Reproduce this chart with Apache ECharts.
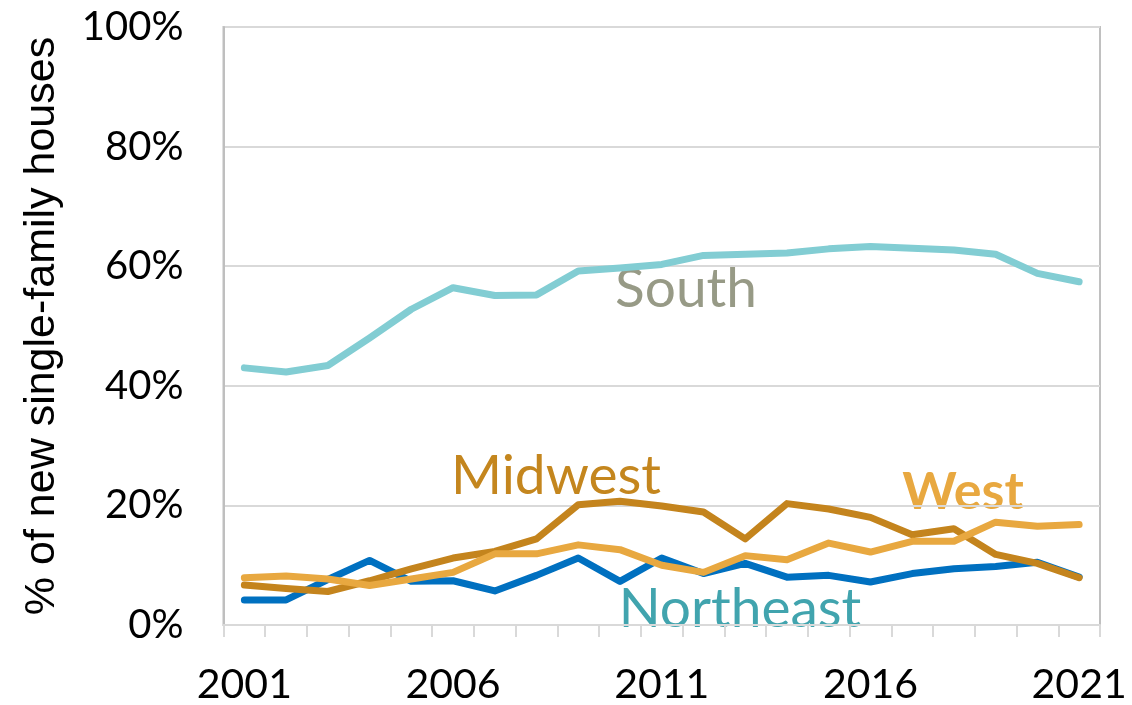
<!DOCTYPE html>
<html>
<head>
<meta charset="utf-8">
<script src="https://cdn.jsdelivr.net/npm/echarts@6/dist/echarts.min.js"></script>
<style>
html,body{margin:0;padding:0;background:#fff;}
#chart{width:1132px;height:705px;}
</style>
</head>
<body>
<div id="chart"></div>
<script>
var years = ['2001','2002','2003','2004','2005','2006','2007','2008','2009','2010','2011','2012','2013','2014','2015','2016','2017','2018','2019','2020','2021'];
var south     = [43.0,42.3,43.4,48.0,52.8,56.4,55.1,55.2,59.2,59.7,60.3,61.8,62.0,62.2,62.9,63.3,63.0,62.7,62.0,58.8,57.4];
var northeast = [4.2,4.2,7.6,10.8,7.3,7.4,5.7,8.3,11.2,7.3,11.2,8.6,10.3,8.0,8.3,7.2,8.6,9.4,9.8,10.5,8.0];
var midwest   = [6.7,6.1,5.6,7.4,9.4,11.2,12.3,14.4,20.1,20.7,19.9,18.9,14.4,20.3,19.4,18.0,15.1,16.1,11.8,10.3,7.9];
var west      = [7.9,8.2,7.7,6.6,7.7,8.8,11.9,11.9,13.4,12.6,10.0,8.8,11.6,10.9,13.7,12.2,14.0,14.0,17.2,16.5,16.8];
var yTicks = [0,20,40,60,80,100];
var axisTitle = '% of new single-family houses';

var FONT = 'Lato';
var chart = echarts.init(document.getElementById('chart'));
function line(name, data, color){
  return {name:name, type:'line', data:data, symbol:'none', smooth:false,
    lineStyle:{color:color, width:7, cap:'round', join:'round'}, itemStyle:{color:color}};
}
chart.setOption({
  animation:false,
  grid:{left:223.5, right:32, top:27, bottom:77, show:true, borderColor:'#C0C0C0', borderWidth:2},
  xAxis:{type:'category', data:years, boundaryGap:true,
    axisLine:{lineStyle:{color:'#D9D9D9', width:2}},
    axisTick:{show:true, interval:0, length:12, lineStyle:{color:'#D9D9D9', width:2}},
    axisLabel:{interval:4, color:'#000', fontFamily:FONT, fontSize:41, margin:39}
  },
  yAxis:{type:'value', min:yTicks[0], max:yTicks[yTicks.length-1], interval:20,
    name:axisTitle, nameLocation:'middle', nameGap:160, nameRotate:90,
    nameTextStyle:{fontFamily:'Liberation Sans', fontSize:43, color:'#000'},
    axisLine:{show:true, lineStyle:{color:'#BFBFBF', width:2}},
    axisTick:{show:false},
    splitLine:{lineStyle:{color:'#D9D9D9', width:2}},
    axisLabel:{formatter:'{value}%', color:'#000', fontFamily:FONT, fontSize:40, margin:40}
  },
  series:[
    line('South', south, '#82CDD3'),
    line('Northeast', northeast, '#0070C0'),
    line('Midwest', midwest, '#C4841D'),
    line('West', west, '#E8A840')
  ],
  graphic:[
    {type:'text', x:686, y:289, style:{text:'South', font:'55px Lato', fill:'#979A86', textAlign:'center', textVerticalAlign:'middle'}},
    {type:'text', x:556, y:476, style:{text:'Midwest', font:'55px Lato', fill:'#C4861E', textAlign:'center', textVerticalAlign:'middle'}},
    {type:'text', x:963, y:492, style:{text:'West', font:'bold 52px Lato', fill:'#E8A840', textAlign:'center', textVerticalAlign:'middle'}},
    {type:'text', x:740, y:609, style:{text:'Northeast', font:'55px Lato', fill:'#41A4AE', textAlign:'center', textVerticalAlign:'middle'}}
  ]
});
</script>
</body>
</html>
